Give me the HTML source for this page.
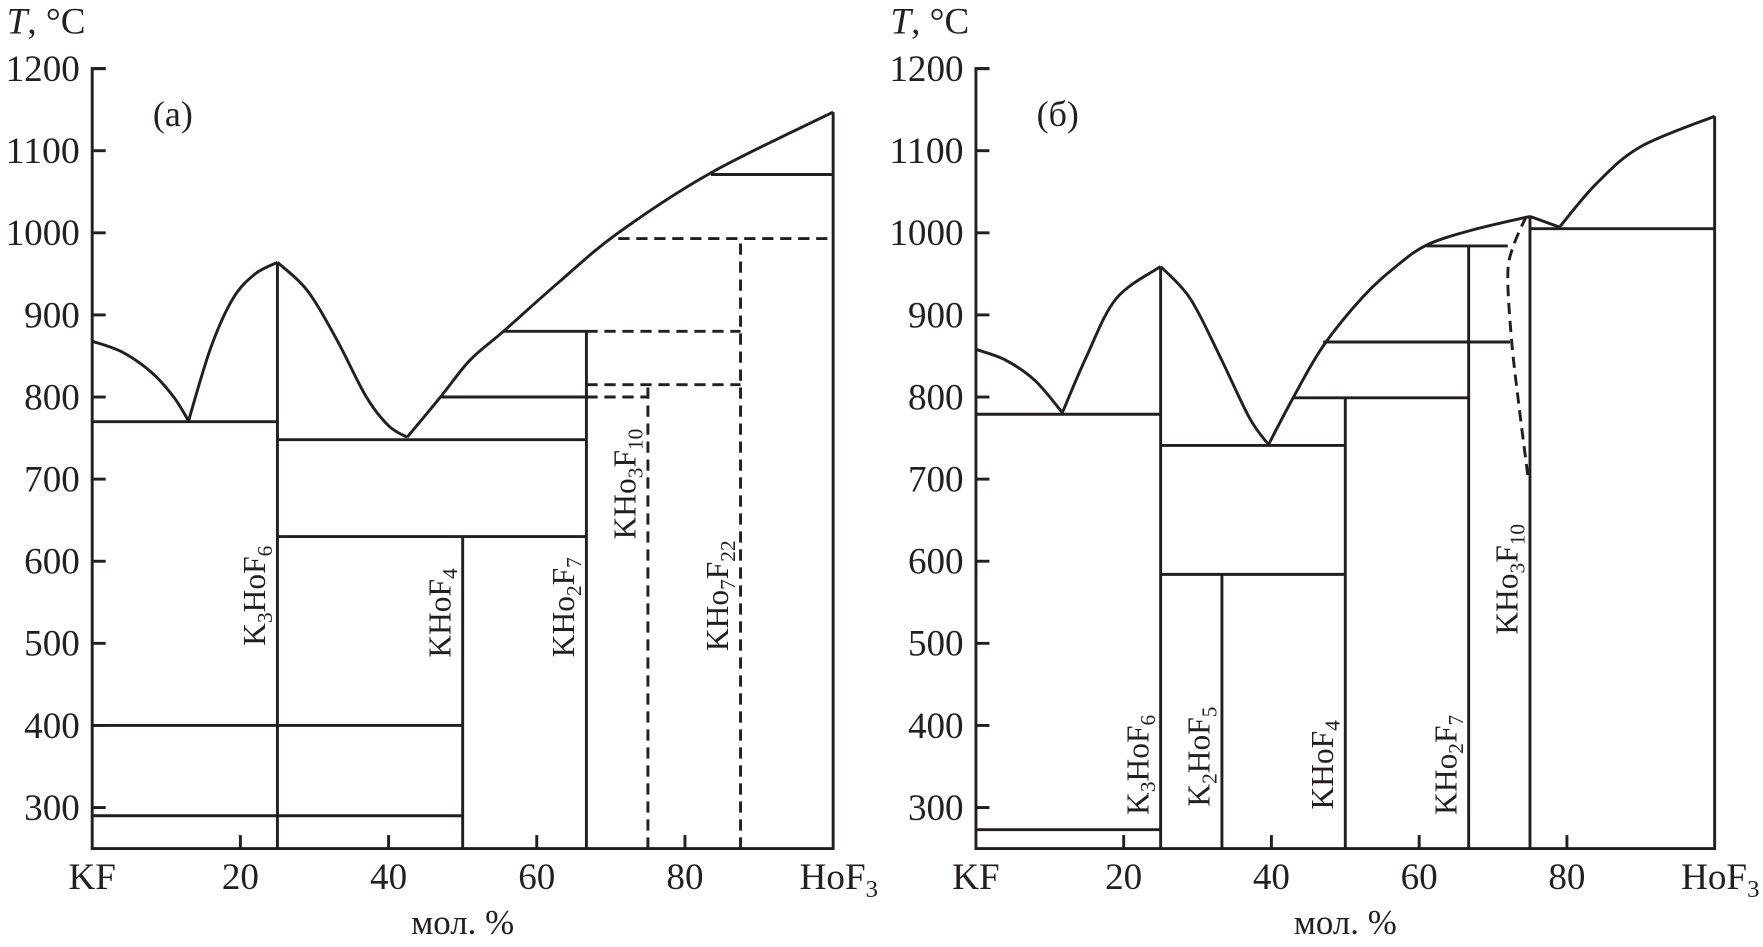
<!DOCTYPE html>
<html><head><meta charset="utf-8"><style>
html,body{margin:0;padding:0;background:#fff}
svg{display:block}
text{font-family:"Liberation Serif",serif;fill:#231f20}
</style></head><body>
<svg id="chart" width="1763" height="947" viewBox="0 0 1568 842" preserveAspectRatio="none" xmlns="http://www.w3.org/2000/svg"></svg>
<script>
// ---- data ----
const yTicks = [300,400,500,600,700,800,900,1000,1100,1200];
const xTicks = [20,40,60,80];
const xEndLabels = ["KF","HoF3"];
// Panel (a)
const aLiquidus = [
  [[0,868],[4,855],[8,830],[11,800],[13,771]],
  [[13,771],[16,860],[19,920],[22,950],[25,964]],
  [[25,964],[29,930],[33,870],[37,800],[40,765],[42.5,751]],
  [[42.5,751],[47,800],[51,845],[55.5,880],[63,940],[71,1000],[83.5,1073],[100,1147]]
];
const aHoriz = [[770,0,25],[748,25,66.7],[630,25,66.7],[880,55.5,66.7],[800,47,66.7],[400,0,50],[290,0,50],[1071,83.5,100]];
const aVert = [[25,250,964],[50,250,630],[66.7,250,880]];
const aHorizDash = [[800,66.7,75],[815,66.7,87.5],[880,66.7,87.5],[993,71,100]];
const aVertDash = [[75,250,815],[87.5,250,993]];
const aCompounds = [["K","3","HoF","6",25],["KHoF","4","","",50],["KHo","2","F","7",66.7],["KHo","3","F","10",75],["KHo","7","F","22",87.5]];
const aLabelT = [558,537,544,694,558];
// Panel (b)
const bLiquidus = [
  [[0,858],[4,845],[8,820],[11.7,781]],
  [[11.7,781],[15,850],[19,920],[25,959]],
  [[25,959],[29,920],[33,850],[37,775],[39.6,742]],
  [[39.6,742],[43,800],[47,862],[52.5,923],[57,960],[61,985],[67,1003],[75,1020]],
  [[75,1020],[79,1007]],
  [[79,1007],[84,1060],[90,1105],[100,1142]]
];
const bHoriz = [[779,0,25],[741,25,50],[584,25,50],[799,43,66.7],[867,47,72.3],[984,61,72],[273,0,25],[1005,75,100]];
const bVert = [[25,250,959],[33.3,250,584],[50,250,799],[66.7,250,984],[75,250,1020]];
const bDashCurve = [[74.5,1020],[72.8,985],[72,950],[72.5,870],[73.5,790],[74.7,705]];
const bCompounds = [["K","3","HoF","6",25],["K","2","HoF","5",33.3],["KHoF","4","","",50],["KHo","2","F","7",66.7],["KHo","3","F","10",75]];
const bLabelT = [352,362,352,352,578];

const NS="http://www.w3.org/2000/svg";
const svg=document.getElementById('chart');
function mk(tag,attrs,parent){const e=document.createElementNS(NS,tag);for(const k in attrs)e.setAttribute(k,attrs[k]);(parent||svg).appendChild(e);return e;}
function yS(T){return 61+(1200-T)*0.73;}
function smooth(pts){
  if(pts.length<3){return "M"+pts.map(p=>p.join(",")).join(" L");}
  let d="M"+pts[0][0]+","+pts[0][1];
  for(let i=0;i<pts.length-1;i++){
    const p0=pts[i-1]||pts[i],p1=pts[i],p2=pts[i+1],p3=pts[i+2]||p2;
    const c1=[p1[0]+(p2[0]-p0[0])/6,p1[1]+(p2[1]-p0[1])/6];
    const c2=[p2[0]-(p3[0]-p1[0])/6,p2[1]-(p3[1]-p1[1])/6];
    d+=" C"+c1.join(",")+" "+c2.join(",")+" "+p2.join(",");
  }
  return d;
}
function panel(x0,x1,name,liq,hz,vt,hzd,vtd,comps,labT,dcurve,tag){
  const g=mk('g',{});
  
  
  const xS=c=>x0+(x1-x0)*c/100;
  const st={stroke:"#231f20","stroke-width":2.6,fill:"none"};
  const ax=mk('path',Object.assign({d:`M${x0+12},${yS(1200)} L${x0},${yS(1200)} L${x0},${yS(250)} L${x1},${yS(250)} L${x1},${yS(liq[liq.length-1].slice(-1)[0][1])}`},st),g);
  
  
  yTicks.forEach(t=>{
    const l=mk('line',Object.assign({x1:x0,x2:x0+12,y1:yS(t),y2:yS(t)},st),g);
    
    
    const tx=mk('text',{x:x0-11,y:yS(t)+11,"text-anchor":"end","font-size":33,"textLength":66,"lengthAdjust":"spacingAndGlyphs"},g);
    if(t<1000){tx.removeAttribute('textLength');}
    tx.textContent=t;
    
    
  });
  xTicks.forEach(t=>{
    const l=mk('line',Object.assign({x1:xS(t),x2:xS(t),y1:yS(250),y2:yS(250)-12},st),g);
    
    
    const tx=mk('text',{x:xS(t),y:yS(250)+36,"text-anchor":"middle","font-size":33},g);
    tx.textContent=t;
    
    
  });
  const kf=mk('text',{x:x0,y:yS(250)+36,"text-anchor":"middle","font-size":33},g);
  kf.textContent=xEndLabels[0];
  
  
  const ho=mk('text',{x:x1+5,y:yS(250)+36,"text-anchor":"middle","font-size":33},g);
  ho.innerHTML='HoF<tspan font-size="22" dy="7">3</tspan>';
  
  
  const xt=mk('text',{x:(x0+x1)/2,y:yS(250)+76,"text-anchor":"middle","font-size":31},g);
  xt.textContent='мол. %';
  
  
  const yt=mk('text',{x:x0-76,y:30,"font-size":33},g);
  yt.innerHTML='<tspan font-style="italic">T</tspan>, °C';
  
  
  const pt=mk('text',{x:x0+54,y:112,"font-size":32},g);
  pt.textContent=tag;
  
  
  liq.forEach(seg=>{
    const p=mk('path',Object.assign({d:smooth(seg.map(q=>[xS(q[0]),yS(q[1])]))},st),g);
    
    
  });
  hz.forEach(h=>{
    const l=mk('line',Object.assign({x1:xS(h[1]),x2:xS(h[2]),y1:yS(h[0]),y2:yS(h[0])},st),g);
    
    
  });
  vt.forEach(v=>{
    const l=mk('line',Object.assign({x1:xS(v[0]),x2:xS(v[0]),y1:yS(v[1]),y2:yS(v[2])},st),g);
    
    
  });
  const ds=Object.assign({},st,{"stroke-dasharray":"10,6"});
  hzd.forEach(h=>{
    const l=mk('line',Object.assign({x1:xS(h[1]),x2:xS(h[2]),y1:yS(h[0]),y2:yS(h[0])},ds),g);
    
    
  });
  vtd.forEach(v=>{
    const l=mk('line',Object.assign({x1:xS(v[0]),x2:xS(v[0]),y1:yS(v[1]),y2:yS(v[2])},ds),g);
    
    
  });
  if(dcurve){
    const p=mk('path',Object.assign({d:smooth(dcurve.map(q=>[xS(q[0]),yS(q[1])]))},ds),g);
    
    
  }
  comps.forEach((c,i)=>{
    const x=xS(c[4])-11, y=yS(labT[i]);
    const t=mk('text',{x:0,y:0,"text-anchor":"middle","font-size":28,transform:`translate(${x},${y}) rotate(-90)`},g);
    t.innerHTML=c[0]+'<tspan font-size="19" dy="6">'+c[1]+'</tspan><tspan dy="-6">'+c[2]+'</tspan>'+(c[3]?'<tspan font-size="19" dy="6">'+c[3]+'</tspan>':'');
    
    
  });
}
panel(82,741,'panel-a',aLiquidus,aHoriz,aVert,aHorizDash,aVertDash,aCompounds,aLabelT,null,'(a)');
panel(868,1525,'panel-b',bLiquidus,bHoriz,bVert,[],[],bCompounds,bLabelT,bDashCurve,'(б)');
</script>
</body></html>
